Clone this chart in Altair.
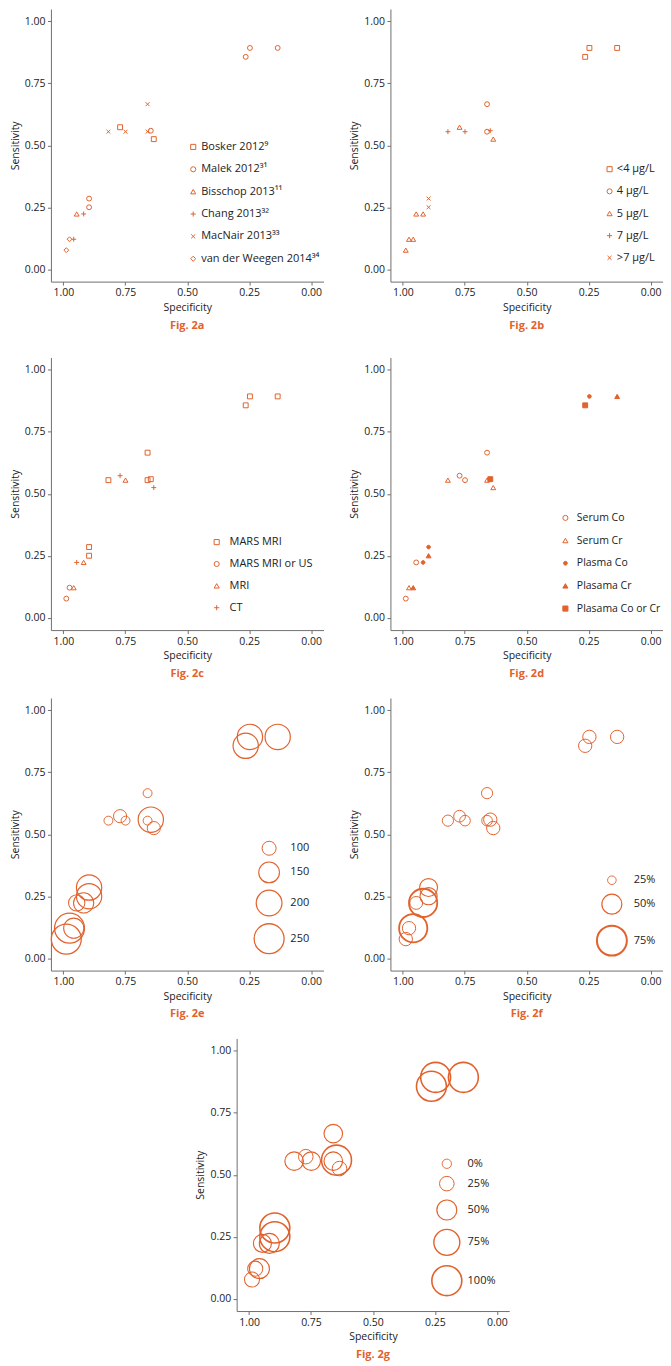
import altair as alt
import pandas as pd

ORANGE = "#E2622D"
PLUS = "M-1,0L1,0M0,-1L0,1"
CROSS = "M-0.8,-0.8L0.8,0.8M-0.8,0.8L0.8,-0.8"
SMALL_DOT = "M0.75,0A0.75,0.75 0 1,1 -0.75,0A0.75,0.75 0 1,1 0.75,0Z"

# ---- data ----
specificity = [0.264, 0.247, 0.135, 0.660, 0.771, 0.818, 0.749, 0.660, 0.647,
               0.635, 0.896, 0.896, 0.946, 0.918, 0.975, 0.958, 0.988]
sensitivity = [0.857, 0.893, 0.893, 0.666, 0.573, 0.555, 0.555, 0.555, 0.559,
               0.525, 0.285, 0.250, 0.223, 0.223, 0.121, 0.121, 0.077]
study = ["Malek 2012³¹", "Malek 2012³¹", "Malek 2012³¹", "MacNair 2013³³",
         "Bosker 2012⁹", "MacNair 2013³³", "MacNair 2013³³", "MacNair 2013³³",
         "Malek 2012³¹", "Bosker 2012⁹", "Malek 2012³¹", "Malek 2012³¹",
         "Bisschop 2013¹¹", "Chang 2013³²", "van der Weegen 2014³⁴",
         "Chang 2013³²", "van der Weegen 2014³⁴"]
threshold = ["<4 µg/L", "<4 µg/L", "<4 µg/L", "\u20024 µg/L", "\u20025 µg/L",
             "\u20027 µg/L", "\u20027 µg/L", "\u20024 µg/L", "\u20027 µg/L",
             "\u20025 µg/L", ">7 µg/L", ">7 µg/L", "\u20025 µg/L", "\u20025 µg/L",
             "\u20025 µg/L", "\u20025 µg/L", "\u20025 µg/L"]
imaging = ["MARS MRI", "MARS MRI", "MARS MRI", "MARS MRI", "CT", "MARS MRI", "MRI",
           "MARS MRI", "MARS MRI", "CT", "MARS MRI", "MARS MRI", "CT", "MRI",
           "MARS MRI or US", "MRI", "MARS MRI or US"]
sample = ["Plasama Co or Cr", "Plasma Co", "Plasama Cr", "Serum Co", "Serum Co",
          "Serum Cr", "Serum Co", "Serum Cr", "Plasama Co or Cr", "Serum Cr",
          "Plasma Co", "Plasama Cr", "Serum Co", "Plasma Co", "Serum Cr",
          "Plasama Cr", "Serum Co"]
size_e = [195, 195, 195, 75, 95, 75, 75, 75, 195, 95, 195, 195, 115, 145, 250, 145, 250]
pct_f = [33, 33, 33, 29, 30, 29, 28, 28, 33, 33, 44, 42, 32, 70, 33, 70, 33]
pct_g = [100, 100, 100, 43, 25, 43, 43, 43, 100, 25, 100, 100, 40, 50, 27, 50, 27]

study_order = ["Bosker 2012⁹", "Malek 2012³¹", "Bisschop 2013¹¹", "Chang 2013³²",
               "MacNair 2013³³", "van der Weegen 2014³⁴"]
threshold_order = ["<4 µg/L", "\u20024 µg/L", "\u20025 µg/L", "\u20027 µg/L", ">7 µg/L"]
imaging_order = ["MARS MRI", "MARS MRI or US", "MRI", "CT"]
sample_order = ["Serum Co", "Serum Cr", "Plasma Co", "Plasama Cr", "Plasama Co or Cr"]
tick_values = [0, 0.25, 0.5, 0.75, 1]

df = pd.DataFrame({
    "spec": specificity, "sens": sensitivity, "study": study,
    "threshold": threshold, "imaging": imaging, "sample": sample,
    "n": size_e, "pf": pct_f, "pg": pct_g,
})

W, H = 273, 273
IND = dict(shape="independent", size="independent", strokeWidth="independent", fill="independent")


def base(caption):
    return alt.Chart(df, title=alt.Title(caption)).encode(
        x=alt.X("spec:Q", title="Specificity",
                scale=alt.Scale(domain=[-0.05, 1.05], reverse=True, nice=False, zero=False),
                axis=alt.Axis(values=tick_values, format=".2f")),
        y=alt.Y("sens:Q", title="Sensitivity",
                scale=alt.Scale(domain=[-0.05, 1.05], nice=False, zero=False),
                axis=alt.Axis(values=tick_values, format=".2f")),
    ).properties(width=W, height=H)


def leg(x, y, offset, rowpad, values=None, symsize=None, pct=False, fs=None):
    kw = dict(orient="none", legendX=x, legendY=y, title=None,
              labelOffset=offset, rowPadding=rowpad, padding=0)
    if values is not None:
        kw["values"] = values
    if symsize is not None:
        kw["symbolSize"] = symsize
    if pct:
        kw["labelExpr"] = "datum.label + '%'"
    if fs is not None:
        kw["labelFontSize"] = fs
    return alt.Legend(**kw)


def indep(c):
    return c.resolve_scale(**IND).resolve_legend(**IND)


shape_mark = dict(filled=False, color=ORANGE, size=24, strokeWidth=1, opacity=1)

# Fig 2a
ca = base("Fig. 2a").mark_point(**shape_mark).encode(
    shape=alt.Shape("study:N",
                    scale=alt.Scale(domain=study_order,
                                    range=["square", "circle", "triangle-up", PLUS, CROSS, "diamond"]),
                    legend=leg(137, 132.6, 2.5, 10.4, symsize=26)))

# Fig 2b
cb = base("Fig. 2b").mark_point(**shape_mark).encode(
    shape=alt.Shape("threshold:N",
                    scale=alt.Scale(domain=threshold_order,
                                    range=["square", "circle", "triangle-up", PLUS, CROSS]),
                    legend=leg(214, 154.9, 1.8, 10.2, symsize=26)))

# Fig 2c
cc = base("Fig. 2c").mark_point(**shape_mark).encode(
    shape=alt.Shape("imaging:N",
                    scale=alt.Scale(domain=imaging_order,
                                    range=["square", "circle", "triangle-up", PLUS]),
                    legend=leg(160.5, 179.4, 7.4, 9.9, symsize=26)))

# Fig 2d
lg_d = leg(170, 155.4, 6.2, 11.7, symsize=26, fs=10.5)
cd = base("Fig. 2d").mark_point(filled=True, stroke=ORANGE, size=24, strokeWidth=1, opacity=1).encode(
    shape=alt.Shape("sample:N",
                    scale=alt.Scale(domain=sample_order,
                                    range=["circle", "triangle-up", SMALL_DOT, "triangle-up", "square"]),
                    legend=lg_d),
    fill=alt.Fill("sample:N",
                  scale=alt.Scale(domain=sample_order,
                                  range=["transparent", "transparent", ORANGE, ORANGE, ORANGE]),
                  legend=lg_d))

bubble_mark = dict(filled=False, color=ORANGE, shape="circle", opacity=1)

# Fig 2e
lg_e = leg(202.5, 142.5, 5.3, 2.2, values=[100, 150, 200, 250])
ce = base("Fig. 2e").mark_point(**bubble_mark).encode(
    size=alt.Size("n:Q", scale=alt.Scale(domain=[58, 250], range=[0, 900]), legend=lg_e),
    strokeWidth=alt.StrokeWidth("n:Q", scale=alt.Scale(domain=[58, 250], range=[0.9, 1.3]), legend=lg_e))

# Fig 2f
lg_f = leg(205.8, 177, 5.9, 4.5, values=[25, 50, 75], pct=True)
cf = base("Fig. 2f").mark_point(**bubble_mark).encode(
    size=alt.Size("pf:Q", scale=alt.Scale(domain=[25, 50, 75], range=[74, 400, 900]), legend=lg_f),
    strokeWidth=alt.StrokeWidth("pf:Q", scale=alt.Scale(domain=[25, 50, 75], range=[0.9, 1.2, 2.0]), legend=lg_f))

# Fig 2g
lg_g = leg(194.5, 120, 4.8, 3.4, values=[0, 25, 50, 75, 100], pct=True)
cg = base("Fig. 2g").mark_point(**bubble_mark).encode(
    size=alt.Size("pg:Q", scale=alt.Scale(domain=[0, 25, 50, 75, 100], range=[88, 213, 400, 676, 900]),
                  legend=lg_g),
    strokeWidth=alt.StrokeWidth("pg:Q", scale=alt.Scale(domain=[0, 25, 50, 75, 100],
                                                        range=[0.9, 1.0, 1.2, 1.4, 1.6]), legend=lg_g))

spacer = alt.Chart(pd.DataFrame({"v": [0]})).mark_point(opacity=0).encode(
    x=alt.X("v:Q", axis=None), y=alt.Y("v:Q", axis=None)).properties(width=145, height=10)

row1 = indep(alt.hconcat(ca, cb, spacing=26))
row2 = indep(alt.hconcat(cc, cd, spacing=26))
row3 = indep(alt.hconcat(ce, cf, spacing=26))
row4 = indep(alt.hconcat(spacer, cg, spacing=0))

inner = indep(alt.vconcat(row2, row3, row4, spacing=19))
chart = indep(alt.vconcat(row1, inner, spacing=27)).properties(
    padding={"left": 2, "top": 0, "right": 0, "bottom": 0}
).configure(
    font="Open Sans", background="white"
).configure_view(stroke=None).configure_axis(
    labelFont="Open Sans", titleFont="Open Sans", labelFontSize=10.5, titleFontSize=10.5,
    titleFontWeight="normal", labelColor="#222222", titleColor="#222222",
    domainColor="#707070", tickColor="#707070", tickSize=3.5, labelPadding=2.5,
    titlePadding=4, grid=False
).configure_legend(
    labelFont="Open Sans", labelFontSize=11, labelColor="#222222", symbolStrokeWidth=1
).configure_title(
    orient="bottom", anchor="middle", frame="group", offset=7, font="Open Sans",
    fontSize=11, fontWeight="bold", color=ORANGE
)

chart.save("out.html", embed_options={"renderer": "svg", "actions": False})
